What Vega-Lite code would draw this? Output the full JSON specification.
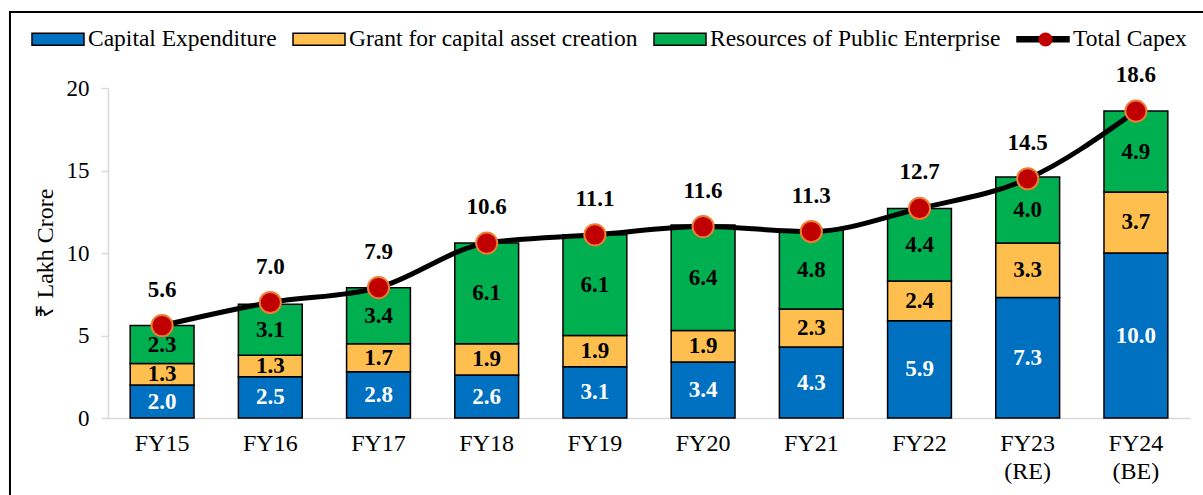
{
  "$schema": "https://vega.github.io/schema/vega-lite/v6.json",
  "width": 1082,
  "height": 330,
  "autosize": {"type": "none"},
  "padding": {"left": 108, "top": 88, "right": 13, "bottom": 77},
  "background": "white",
  "config": {
    "view": {"stroke": null},
    "font": "Liberation Serif",
    "axisY": {"domainColor": "#D9D9D9", "domainWidth": 1.5, "tickColor": "#D9D9D9", "tickWidth": 1.5, "tickSize": 7, "labelPadding": 12, "grid": false, "labelFont": "Liberation Serif", "labelFontSize": 23, "labelColor": "black", "titleFont": "Liberation Serif", "titleFontSize": 24, "titleFontWeight": "normal", "titleColor": "black", "titlePadding": 9, "tickCount": 5},
    "axisX": {"domainColor": "#D9D9D9", "domainWidth": 1.5, "ticks": false, "labelFont": "Liberation Serif", "labelFontSize": 24, "labelColor": "black", "labelPadding": 13, "labelLineHeight": 28, "labelAngle": 0, "grid": false}
  },
  "datasets": {
    "segments": [
      {"fy": "FY15", "series": "Capital Expenditure", "value": 2.0},
      {"fy": "FY15", "series": "Grant for capital asset creation", "value": 1.3},
      {"fy": "FY15", "series": "Resources of Public Enterprise", "value": 2.3},
      {"fy": "FY16", "series": "Capital Expenditure", "value": 2.5},
      {"fy": "FY16", "series": "Grant for capital asset creation", "value": 1.3},
      {"fy": "FY16", "series": "Resources of Public Enterprise", "value": 3.1},
      {"fy": "FY17", "series": "Capital Expenditure", "value": 2.8},
      {"fy": "FY17", "series": "Grant for capital asset creation", "value": 1.7},
      {"fy": "FY17", "series": "Resources of Public Enterprise", "value": 3.4},
      {"fy": "FY18", "series": "Capital Expenditure", "value": 2.6},
      {"fy": "FY18", "series": "Grant for capital asset creation", "value": 1.9},
      {"fy": "FY18", "series": "Resources of Public Enterprise", "value": 6.1},
      {"fy": "FY19", "series": "Capital Expenditure", "value": 3.1},
      {"fy": "FY19", "series": "Grant for capital asset creation", "value": 1.9},
      {"fy": "FY19", "series": "Resources of Public Enterprise", "value": 6.1},
      {"fy": "FY20", "series": "Capital Expenditure", "value": 3.4},
      {"fy": "FY20", "series": "Grant for capital asset creation", "value": 1.9},
      {"fy": "FY20", "series": "Resources of Public Enterprise", "value": 6.4},
      {"fy": "FY21", "series": "Capital Expenditure", "value": 4.3},
      {"fy": "FY21", "series": "Grant for capital asset creation", "value": 2.3},
      {"fy": "FY21", "series": "Resources of Public Enterprise", "value": 4.8},
      {"fy": "FY22", "series": "Capital Expenditure", "value": 5.9},
      {"fy": "FY22", "series": "Grant for capital asset creation", "value": 2.4},
      {"fy": "FY22", "series": "Resources of Public Enterprise", "value": 4.4},
      {"fy": "FY23 (RE)", "series": "Capital Expenditure", "value": 7.3},
      {"fy": "FY23 (RE)", "series": "Grant for capital asset creation", "value": 3.3},
      {"fy": "FY23 (RE)", "series": "Resources of Public Enterprise", "value": 4.0},
      {"fy": "FY24 (BE)", "series": "Capital Expenditure", "value": 10.0},
      {"fy": "FY24 (BE)", "series": "Grant for capital asset creation", "value": 3.7},
      {"fy": "FY24 (BE)", "series": "Resources of Public Enterprise", "value": 4.9}
    ],
    "totals": [
      {"fy": "FY15", "total": 5.6},
      {"fy": "FY16", "total": 7.0},
      {"fy": "FY17", "total": 7.9},
      {"fy": "FY18", "total": 10.6},
      {"fy": "FY19", "total": 11.1},
      {"fy": "FY20", "total": 11.6},
      {"fy": "FY21", "total": 11.3},
      {"fy": "FY22", "total": 12.7},
      {"fy": "FY23 (RE)", "total": 14.5},
      {"fy": "FY24 (BE)", "total": 18.6}
    ]
  },
  "layer": [
    {
      "data": {"values": [{"frame": 1}]},
      "mark": {"type": "rect", "fill": null, "fillOpacity": 0, "stroke": "black", "strokeWidth": 2},
      "encoding": {
        "x": {"datum": -0.0906, "type": "quantitative", "scale": {"domain": [0, 1], "nice": false, "zero": false}, "axis": null},
        "x2": {"datum": 1.05},
        "y": {"datum": 1.2303, "type": "quantitative", "scale": {"domain": [0, 1], "nice": false, "zero": false}, "axis": null},
        "y2": {"datum": -0.26}
      }
    },
    {
      "layer": [
        {
          "data": {"name": "segments"},
          "transform": [{"stack": "value", "groupby": ["fy"], "sort": [{"field": "series", "order": "ascending"}], "as": ["v0", "v1"]}],
          "mark": {"type": "bar", "stroke": "black", "strokeWidth": 1.5, "opacity": 1},
          "encoding": {
            "x": {"field": "fy", "type": "nominal", "sort": null, "title": null, "scale": {"paddingInner": 0.41, "paddingOuter": 0.205}, "axis": {"labelExpr": "split(datum.label, ' ')"}},
            "y": {"field": "v0", "type": "quantitative", "title": "₹ Lakh Crore", "scale": {"domain": [0, 20], "nice": false}},
            "y2": {"field": "v1"},
            "color": {
              "field": "series",
              "type": "nominal",
              "scale": {
                "domain": ["Capital Expenditure", "Grant for capital asset creation", "Resources of Public Enterprise", "Total Capex"],
                "range": ["#0070C0", "#FFBF4F", "#00B050", "#000000"]
              },
              "legend": {
                "title": null,
                "orient": "none",
                "legendX": -77,
                "legendY": -76,
                "direction": "horizontal",
                "padding": 0,
                "symbolSize": 2704,
                "symbolType": "M-1,-0.23H1V0.23H-1Z",
                "symbolStrokeColor": "black",
                "symbolStrokeWidth": 1.5,
                "symbolOpacity": 1,
                "labelFont": "Liberation Serif",
                "labelFontSize": 23.5,
                "labelColor": "black",
                "labelOffset": 3,
                "labelLimit": 600,
                "columnPadding": 13,
                "encode": {
                  "symbols": {
                    "update": {
                      "shape": {"signal": "datum.value === 'Total Capex' ? 'M-1,-0.1H1V0.1H-1Z' : 'M-1,-0.23H1V0.23H-1Z'"}
                    }
                  }
                }
              }
            }
          }
        },
        {
          "data": {"name": "segments"},
          "transform": [
            {"stack": "value", "groupby": ["fy"], "sort": [{"field": "series", "order": "ascending"}], "as": ["v0", "v1"]},
            {"calculate": "(datum.v0 + datum.v1) / 2", "as": "mid"}
          ],
          "mark": {"type": "text", "font": "Liberation Serif", "fontWeight": "bold", "fontSize": 23, "baseline": "middle"},
          "encoding": {
            "x": {"field": "fy", "type": "nominal", "sort": null},
            "y": {"field": "mid", "type": "quantitative", "title": "₹ Lakh Crore"},
            "text": {"field": "value", "type": "quantitative", "format": ".1f"},
            "color": {"condition": {"test": "datum.series === 'Capital Expenditure'", "value": "white"}, "value": "black"}
          }
        },
        {
          "data": {"name": "totals"},
          "mark": {"type": "line", "interpolate": "monotone", "color": "black", "strokeWidth": 5},
          "encoding": {
            "x": {"field": "fy", "type": "nominal", "sort": null},
            "y": {"field": "total", "type": "quantitative", "title": "₹ Lakh Crore"}
          }
        },
        {
          "data": {"name": "totals"},
          "mark": {"type": "point", "filled": true, "size": 450, "fill": "#C00000", "stroke": "#ED7D31", "strokeWidth": 2, "opacity": 1},
          "encoding": {
            "x": {"field": "fy", "type": "nominal", "sort": null},
            "y": {"field": "total", "type": "quantitative", "title": "₹ Lakh Crore"},
            "shape": {
              "datum": "Total Capex",
              "scale": {"range": ["circle"]},
              "legend": {
                "title": null,
                "orient": "none",
                "legendX": 929,
                "legendY": -57,
                "padding": 0,
                "symbolSize": 200,
                "symbolFillColor": "#C00000",
                "symbolStrokeColor": "#ED7D31",
                "symbolStrokeWidth": 2,
                "symbolOpacity": 1,
                "labelExpr": "''",
                "labelFontSize": 14
              }
            }
          }
        },
        {
          "data": {"name": "totals"},
          "mark": {"type": "text", "font": "Liberation Serif", "fontWeight": "bold", "fontSize": 23, "dy": -36, "color": "black", "baseline": "middle"},
          "encoding": {
            "x": {"field": "fy", "type": "nominal", "sort": null},
            "y": {"field": "total", "type": "quantitative", "title": "₹ Lakh Crore"},
            "text": {"field": "total", "type": "quantitative", "format": ".1f"}
          }
        }
      ]
    }
  ],
  "resolve": {"scale": {"x": "independent", "y": "independent"}}
}
